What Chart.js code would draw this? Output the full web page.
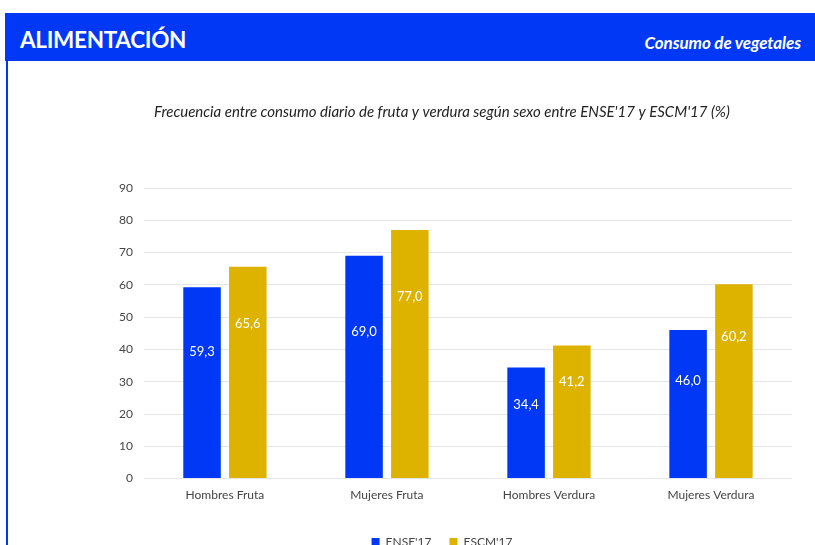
<!DOCTYPE html>
<html>
<head>
<meta charset="utf-8">
<script src="https://cdn.jsdelivr.net/npm/chart.js@4"></script>
<style>
  html, body { margin: 0; padding: 0; background: #fff; overflow: hidden; }
  body { width: 815px; height: 545px; position: relative; font-family: Lato, sans-serif; }
  .header { position: absolute; left: 5px; top: 13px; width: 810px; height: 48px; background: #0038F5; color: #fff; }
  .header .t1 { position: absolute; left: 15px; top: 13px; font-size: 22.5px; font-weight: bold; letter-spacing: -0.3px; }
  .header .t2 { position: absolute; right: 14px; top: 19px; font-size: 17px; font-weight: bold; font-style: italic; letter-spacing: -0.1px; }
  .leftline { position: absolute; left: 6px; top: 61px; width: 2px; height: 490px; background: #0038F5; }
  .wrap { position: absolute; left: 10px; top: 63px; width: 805px; height: 495px; }
</style>
</head>
<body>
<div class="header"><span class="t1">ALIMENTACIÓN</span><span class="t2">Consumo de vegetales</span></div>
<div class="leftline"></div>
<div class="wrap"><canvas id="chart"></canvas></div>
<script>
var categories = ['Hombres Fruta', 'Mujeres Fruta', 'Hombres Verdura', 'Mujeres Verdura'];
var ense17 = [59.3, 69.0, 34.4, 46.0];
var escm17 = [65.6, 77.0, 41.2, 60.2];
var yTicks = [0, 10, 20, 30, 40, 50, 60, 70, 80, 90];

var BLUE = '#0038F5';
var GOLD = '#DDB300';

// values written inside bars, a bit above the middle
var barLabels = {
  id: 'barLabels',
  afterDatasetsDraw: function(chart) {
    var ctx = chart.ctx;
    var y = chart.scales.y;
    ctx.save();
    ctx.fillStyle = '#fff';
    ctx.font = '13px Lato';
    ctx.textAlign = 'center';
    ctx.textBaseline = 'middle';
    chart.data.datasets.forEach(function(ds, i) {
      var frac = i === 0 ? 0.66 : 0.73;
      chart.getDatasetMeta(i).data.forEach(function(bar, j) {
        var v = ds.data[j];
        ctx.fillText(v.toFixed(1).replace('.', ','), bar.x, y.getPixelForValue(v * frac));
      });
    });
    ctx.restore();
  }
};

new Chart(document.getElementById('chart').getContext('2d'), {
  type: 'bar',
  data: {
    labels: categories,
    datasets: [
      { label: "ENSE'17", data: ense17, backgroundColor: BLUE, barPercentage: 0.82, categoryPercentage: 0.565 },
      { label: "ESCM'17", data: escm17, backgroundColor: GOLD, barPercentage: 0.82, categoryPercentage: 0.565 }
    ]
  },
  options: {
    responsive: true,
    maintainAspectRatio: false,
    animation: false,
    layout: { padding: { top: 40, right: 23, bottom: 0, left: 82 } },
    plugins: {
      title: {
        display: true,
        text: "Frecuencia entre consumo diario de fruta y verdura según sexo entre ENSE'17 y ESCM'17 (%)",
        color: '#222',
        font: { family: 'Lato', size: 15, style: 'italic', weight: 'normal' },
        padding: { top: 0, bottom: 67 }
      },
      legend: {
        position: 'bottom',
        labels: { color: '#444', font: { family: 'Lato', size: 12 }, boxWidth: 8, boxHeight: 8, padding: 18 }
      },
      tooltip: { enabled: false }
    },
    scales: {
      x: {
        afterFit: function(axis) { axis.height += 15; },
        grid: { display: false },
        border: { display: false },
        ticks: { color: '#444', font: { family: 'Lato', size: 12 }, padding: 1 }
      },
      y: {
        min: 0,
        max: 90,
        afterBuildTicks: function(axis) { axis.ticks = yTicks.map(function(v) { return { value: v }; }); },
        afterFit: function(axis) { axis.width += 16; },
        grid: { color: '#e6e6e6', drawTicks: false },
        border: { display: false },
        ticks: { color: '#444', font: { family: 'Lato', size: 12 }, padding: 11 }
      }
    }
  },
  plugins: [barLabels]
});
</script>
</body>
</html>
